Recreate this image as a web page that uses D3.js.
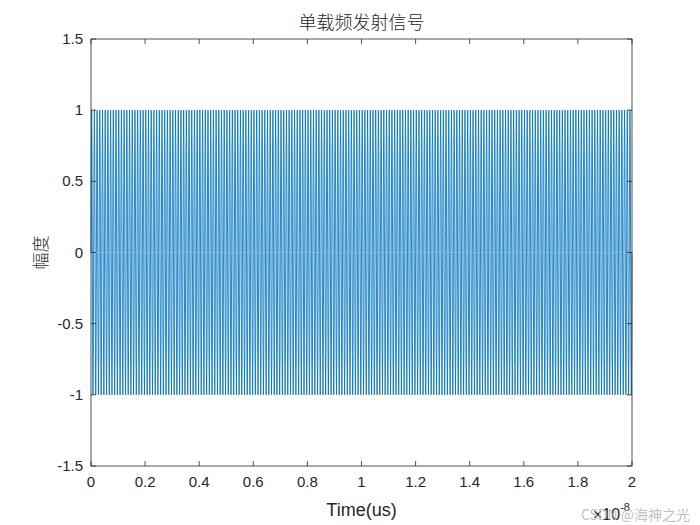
<!DOCTYPE html>
<html><head><meta charset="utf-8">
<script src="https://cdn.jsdelivr.net/npm/d3@7/dist/d3.min.js"></script>
<style>body{margin:0;background:#fff}svg{display:block}text{font-family:"Liberation Sans",Arial,sans-serif}</style>
</head><body>
<svg id="c" width="700" height="525"></svg>
<script>
// one carrier cycle, sampled 8 times (values read from the flat ±1 envelope)
const cycleSamples = [0, 0.7071, 1, 0.7071, 0, -0.7071, -1, -0.7071];
const cycleCount = 200;
const timeSpan = [0, 2e-8];
const xTicks = [0, 0.2, 0.4, 0.6, 0.8, 1, 1.2, 1.4, 1.6, 1.8, 2];
const yTicks = [-1.5, -1, -0.5, 0, 0.5, 1, 1.5];
const title = "单载频发射信号";
const xLabel = "Time(us)";
const yLabel = "幅度";

const signal = [];
for (let c = 0; c < cycleCount; c++) cycleSamples.forEach(v => signal.push(v));
signal.push(cycleSamples[0]);
const n = signal.length - 1;
const data = signal.map((v, i) => ({t: timeSpan[0] + (timeSpan[1] - timeSpan[0]) * i / n, v}));

const svg = d3.select("#c");
const L = 91, R = 632, T = 39, B = 466;
const x = d3.scaleLinear().domain([0, 2]).range([L, R]);
const y = d3.scaleLinear().domain([-1.5, 1.5]).range([B, T]);

svg.append("path").datum(data)
  .attr("fill", "none").attr("stroke", "#0072BD").attr("stroke-width", 0.85)
  .attr("d", d3.line().x(d => x(d.t * 1e8)).y(d => y(d.v)));

const tl = 5;
const g = svg.append("g").attr("stroke", "#262626").attr("stroke-width", 0.8).attr("fill", "none");
g.append("rect").attr("x", L).attr("y", T).attr("width", R - L).attr("height", B - T);
xTicks.forEach(t => {
  g.append("line").attr("x1", x(t)).attr("x2", x(t)).attr("y1", B).attr("y2", B - tl);
  g.append("line").attr("x1", x(t)).attr("x2", x(t)).attr("y1", T).attr("y2", T + tl);
});
yTicks.forEach(t => {
  g.append("line").attr("x1", L).attr("x2", L + tl).attr("y1", y(t)).attr("y2", y(t));
  g.append("line").attr("x1", R).attr("x2", R - tl).attr("y1", y(t)).attr("y2", y(t));
});

const fmt = d => String(d);
svg.selectAll(".xt").data(xTicks).enter().append("text")
  .attr("x", d => x(d)).attr("y", B + 21).attr("text-anchor", "middle")
  .attr("font-size", 15).attr("fill", "#262626").text(fmt);
svg.selectAll(".yt").data(yTicks).enter().append("text")
  .attr("x", L - 8).attr("y", d => y(d) + 5).attr("text-anchor", "end")
  .attr("font-size", 15).attr("fill", "#262626").text(fmt);

svg.append("text").attr("x", (L + R) / 2).attr("y", 29).attr("text-anchor", "middle")
  .attr("font-size", 18).attr("fill", "#262626")
  .style("font-family", "'Noto Sans CJK SC',sans-serif").style("font-weight", 300).text(title);
svg.append("text").attr("x", (L + R) / 2).attr("y", 516).attr("text-anchor", "middle")
  .attr("font-size", 18).attr("fill", "#262626").text(xLabel);
svg.append("text").attr("transform", `translate(47,${(T + B) / 2}) rotate(-90)`)
  .attr("text-anchor", "middle").attr("font-size", 17).attr("fill", "#262626")
  .style("font-family", "'Noto Sans CJK SC',sans-serif").style("font-weight", 300).text(yLabel);

const ex = svg.append("text").attr("x", 593).attr("y", 520).attr("font-size", 16).attr("fill", "#262626");
ex.append("tspan").text("×10");
ex.append("tspan").attr("dy", -9).attr("font-size", 11).text("-8");

svg.append("text").attr("x", 690).attr("y", 520).attr("text-anchor", "end")
  .attr("font-size", 14).attr("fill", "#b8b8b8").attr("opacity", 0.85)
  .style("font-family", "'Noto Sans CJK SC',sans-serif").text("CSDN @海神之光");
</script>
</body></html>
